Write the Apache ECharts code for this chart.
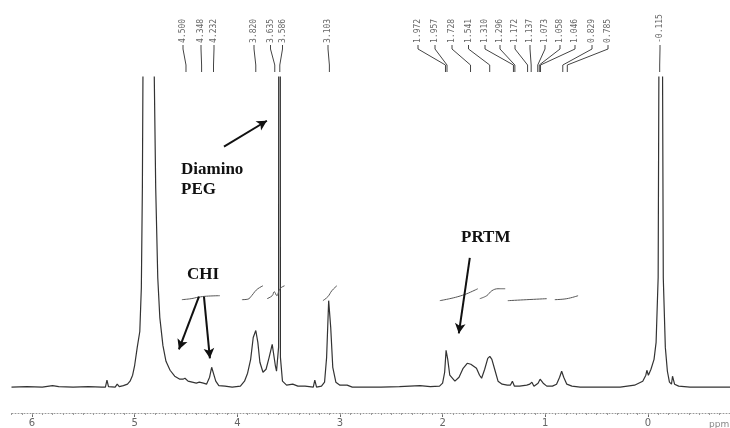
<!DOCTYPE html>
<html>
<head>
<meta charset="utf-8">
<script src="https://cdn.jsdelivr.net/npm/echarts@6/dist/echarts.min.js"></script>
<style>html,body{margin:0;padding:0;background:#fff}#c{width:730px;height:428px}</style>
</head>
<body>
<div id="c"></div>
<script>
// ---- data (ppm, intensity above baseline) ----
const spectrum = [[6.20,0],[6.05,0.5],[5.90,0],[5.80,1.5],[5.74,0.5],[5.60,0],[5.45,0.5],[5.32,0],[5.285,0],[5.27,7],[5.255,0.5],[5.19,0],[5.17,3],[5.15,0.5],[5.11,1.5],[5.07,3],[5.045,6],[5.02,12],[5.00,22],[4.975,40],[4.95,56],[4.935,100],[4.925,200],[4.915,400],[4.87,2500],[4.82,400],[4.81,320],[4.795,200],[4.775,110],[4.755,70],[4.725,42],[4.695,26],[4.655,17],[4.61,11],[4.56,8],[4.53,8],[4.51,9],[4.48,6],[4.44,5],[4.40,4],[4.37,5],[4.355,6],[4.33,4],[4.30,3],[4.27,10],[4.25,20],[4.235,18],[4.21,6],[4.18,1.5],[4.12,1],[4.05,0],[3.97,1],[3.93,6],[3.90,14],[3.87,28],[3.845,50],[3.82,57],[3.80,45],[3.78,25],[3.75,15],[3.72,18],[3.69,30],[3.66,43],[3.645,42],[3.63,22],[3.618,16],[3.598,40],[3.589,2500],[3.58,30],[3.56,6],[3.52,2],[3.46,3],[3.41,1],[3.34,1],[3.26,0],[3.245,7],[3.228,0],[3.18,1],[3.15,5],[3.13,30],[3.11,87],[3.09,60],[3.07,20],[3.04,5],[3.00,2],[2.93,2],[2.88,0],[2.75,0],[2.60,0],[2.42,0.5],[2.22,1.5],[2.12,0.5],[2.03,1],[2.00,4],[1.98,15],[1.966,37],[1.95,28],[1.93,12],[1.88,6],[1.84,10],[1.80,19],[1.76,24],[1.725,23],[1.67,19],[1.64,12],[1.62,9],[1.59,18],[1.56,29],[1.54,31],[1.52,28],[1.49,17],[1.46,6],[1.42,3],[1.37,2],[1.34,2],[1.32,6],[1.30,1],[1.25,1],[1.18,2],[1.15,3],[1.13,5],[1.11,1],[1.07,4],[1.05,8],[1.02,4],[0.985,1],[0.93,1],[0.89,3],[0.86,10],[0.84,16],[0.82,10],[0.79,3],[0.74,1],[0.66,0],[0.47,0],[0.27,0],[0.13,2],[0.05,6],[0.02,12],[0.01,17],[-0.005,12],[-0.03,18],[-0.06,28],[-0.08,45],[-0.1,110],[-0.11,400],[-0.125,3000],[-0.14,400],[-0.15,110],[-0.17,40],[-0.19,16],[-0.21,5],[-0.23,3],[-0.24,11],[-0.26,3],[-0.30,1],[-0.41,0],[-0.80,0]];

const integral1 = [[4.54,88],[4.45,89],[4.38,90.5],[4.30,91.5],[4.17,92]];
const integral2 = [[3.955,88],[3.897,88.5],[3.86,92],[3.83,96],[3.80,99],[3.75,102]];
const integral3 = [[3.71,89],[3.66,92],[3.64,96],[3.615,92],[3.585,99],[3.54,102]];
const integral4 = [[3.166,87],[3.118,91],[3.079,97],[3.03,102]];
const integral5 = [[2.027,87],[1.93,89],[1.852,91],[1.764,94],[1.657,99]];
const integral6 = [[1.638,89],[1.57,92],[1.52,97],[1.46,99],[1.39,99]];
const integral7 = [[1.365,87],[1.18,88],[0.985,89]];
const integral8 = [[0.907,88],[0.79,89],[0.68,92]];
const integrals = [integral1,integral2,integral3,integral4,integral5,integral6,integral7,integral8];

const peakShifts = [4.500,4.348,4.232,3.820,3.635,3.586,3.103,1.972,1.957,1.728,1.541,1.310,1.296,1.172,1.137,1.073,1.058,1.046,0.829,0.785,-0.115];
const tickValues = [6,5,4,3,2,1,0];

// annotations (arrows in data coords)
const arrows = [
  [[4.13,242],[3.712,268]],
  [[4.374,91],[4.569,38]],
  [[4.325,91],[4.267,29]],
  [[1.735,130],[1.842,54]]
];

// ---- layout ----
const labelX = [183,201,214,254,270.5,282.5,328,418,435,452,468.5,485,500,515,530,545,560,575,592,608,660];
const minorTicks = [];
for (let v = -8; v <= 62; v++) minorTicks.push(v / 10);

const chart = echarts.init(document.getElementById('c'));
const series = [{
  type: 'line', data: spectrum, showSymbol: false, silent: true, animation: false,
  lineStyle: {color: '#333', width: 1.2}, clip: true,
  markLine: {
    silent: true, animation: false, symbol: ['none', 'arrow'], symbolSize: [8, 10],
    label: {show: false},
    lineStyle: {color: '#111', width: 2, type: 'solid'},
    data: arrows.map(a => [{coord: a[0]}, {coord: a[1]}])
  }
}];
integrals.forEach(d => series.push({
  type: 'line', data: d, showSymbol: false, silent: true, animation: false, smooth: 0.4,
  lineStyle: {color: '#555', width: 1}
}));

chart.setOption({
  animation: false,
  grid: {left: 11.5, right: 0, top: 77, bottom: 13},
  xAxis: [{
    type: 'value', min: -0.8, max: 6.2, inverse: true, position: 'bottom',
    splitLine: {show: false},
    axisLine: {onZero: false, lineStyle: {color: '#999', width: 1, type: [1, 2]}},
    axisTick: {customValues: tickValues, length: 4, lineStyle: {color: '#666'}},
    axisLabel: {customValues: tickValues, color: '#666', fontSize: 10, fontFamily: 'DejaVu Sans', margin: 5}
  }, {
    type: 'value', min: -0.8, max: 6.2, inverse: true, position: 'bottom', gridIndex: 0,
    splitLine: {show: false},
    axisLine: {show: false, onZero: false},
    axisTick: {customValues: minorTicks, length: 2, lineStyle: {color: '#999'}},
    axisLabel: {show: false}
  }],
  yAxis: {type: 'value', min: -26, max: 312, show: false},
  series: series
});

const g = [];
peakShifts.forEach((v, i) => {
  const px = chart.convertToPixel({xAxisIndex: 0}, v);
  const lx = labelX[i];
  g.push({type: 'text', x: lx, y: 43, rotation: Math.PI / 2, silent: true,
    style: {text: v.toFixed(3), font: '8px "DejaVu Sans Mono"', fill: '#666',
      align: 'left', verticalAlign: 'middle', textAlign: 'left', textVerticalAlign: 'middle'}});
  g.push({type: 'polyline', silent: true,
    shape: {points: [[lx, 45], [lx, 49], [px, 65], [px, 72]]},
    style: {stroke: '#444', lineWidth: 1, fill: null}});
});
const bold = 'bold 17px "Liberation Serif"';
const annots = [['Diamino', 181, 170], ['PEG', 181, 190], ['CHI', 187, 275], ['PRTM', 461, 238]];
annots.forEach(a => g.push({type: 'text', x: a[1], y: a[2], silent: true,
  style: {text: a[0], font: bold, fill: '#111', align: 'left', verticalAlign: 'middle', textAlign: 'left', textVerticalAlign: 'middle'}}));
g.push({type: 'text', x: 709, y: 425, silent: true,
  style: {text: 'ppm', font: '9px "DejaVu Sans"', fill: '#888', align: 'left', verticalAlign: 'middle', textAlign: 'left', textVerticalAlign: 'middle'}});
chart.setOption({graphic: g});
</script>
</body>
</html>
